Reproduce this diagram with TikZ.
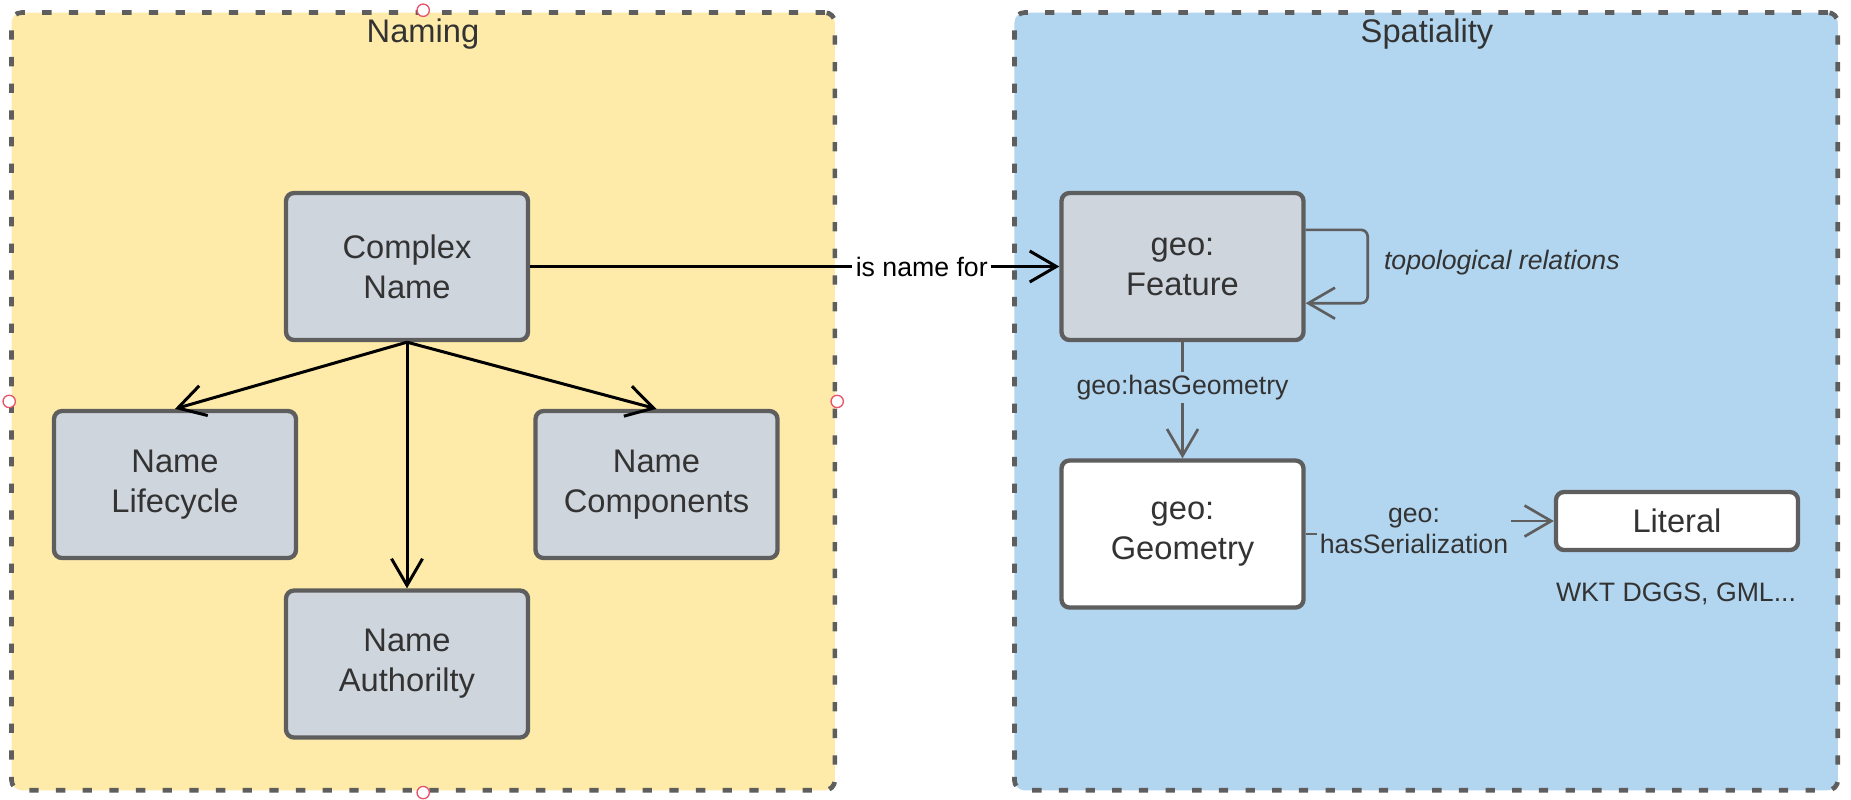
\documentclass[tikz,border=0pt]{standalone}
\usepackage{fontspec}
\setmainfont{Liberation Sans}
\usetikzlibrary{arrows.meta}
\definecolor{namingyellow}{HTML}{FFEBA9}
\definecolor{spatialblue}{HTML}{B3D6F0}
\definecolor{conceptgray}{HTML}{CED5DD}
\definecolor{boxborder}{HTML}{5E5E5E}
\definecolor{darktext}{HTML}{333333}
\definecolor{handlered}{HTML}{E8546A}
\tikzset{
	group/.style={draw=boxborder, line width=1.4pt, dash pattern=on 2.8pt off 5.2pt, rounded corners=3pt, minimum width=247pt, minimum height=233.3pt},
	grouptitle/.style={text=darktext, font=\fontsize{9.8}{12}\selectfont},
	concept/.style={draw=boxborder, line width=1.3pt, rounded corners=2.4pt, fill=conceptgray, text=darktext, minimum width=72.6pt, minimum height=44.1pt, inner sep=0pt, align=center, font=\fontsize{9.8}{12}\selectfont},
	edgelabel/.style={text=darktext, inner sep=1pt, align=center, font=\fontsize{8}{9.3}\selectfont},
	namearrow/.style={black, line width=0.9pt, -{Straight Barb[length=8pt,width=9.3pt]}},
	spatialarrow/.style={boxborder, line width=0.8pt, -{Straight Barb[length=8pt,width=9.3pt]}},
	handle/.style={draw=handlered, line width=0.4pt, fill=white}
}
\begin{document}
\begin{tikzpicture}[x=0.3pt, y=-0.3pt]
			\useasboundingbox (0,0) rectangle (1851,799);
			% the two groups
			\node[group, fill=namingyellow] (naming) at (423.2,401.4){};
			\node[group, fill=spatialblue] (spatiality) at (1426.1,401.4){};
			\node[grouptitle] (namingtitle) at (423,34){Naming};
			\node[grouptitle] (spatialitytitle) at (1427,34){Spatiality};
			
			\node[concept] (complex) at (407,266.5){Complex\\Name};
			\node[concept] (lifecycle) at (175,484.5){Name\\Lifecycle};
			\node[concept] (components) at (656.5,484.5){Name\\Components};
			\node[concept] (authority) at (407,664){Name\\Authorilty};
			
			\node[concept] (feature) at (1182.5,266.5){geo:\\Feature};
			\node[concept, fill=white] (geometry) at (1182.5,534){geo:\\Geometry};
			\node[concept, fill=white, minimum height=17.4pt] (literal) at (1677,521){Literal};
			\node[edgelabel] (formats) at (1676,594){WKT DGGS, GML...};
			
			\draw[namearrow] (complex.south) -- (lifecycle.north);
			\draw[namearrow] (complex.south) -- (components.north);
			\draw[namearrow] (complex.south) -- (authority.north);
			\draw[namearrow]
			(complex) -- (feature) node[pos=0.74, fill=white, text=black, inner sep=1pt, font=\fontsize{8}{9.3}\selectfont]{is name for};
			
			\draw[spatialarrow, rounded corners=2pt]
			([yshift=11pt]feature.east) -- ++(62,0) |- ([yshift=-11pt]feature.east);
			\node[edgelabel, anchor=west, font=\fontsize{8}{9.3}\selectfont\itshape] (topo) at (1380,263){topological relations};
			\draw[spatialarrow]
			(feature) -- (geometry) node[pos=0.39, edgelabel, fill=spatialblue]{geo:hasGeometry};
			\draw[spatialarrow]
			(geometry.east) -- ++(40,0) |- (literal.west);
			\node[edgelabel, fill=spatialblue] (serlabel) at (1414,531){geo:\\hasSerialization};
			
			% selection handles
			\foreach \side in {north,south,west,east}
				\draw[handle] (naming.\side) circle (1.85pt);
		\end{tikzpicture}
\end{document}
